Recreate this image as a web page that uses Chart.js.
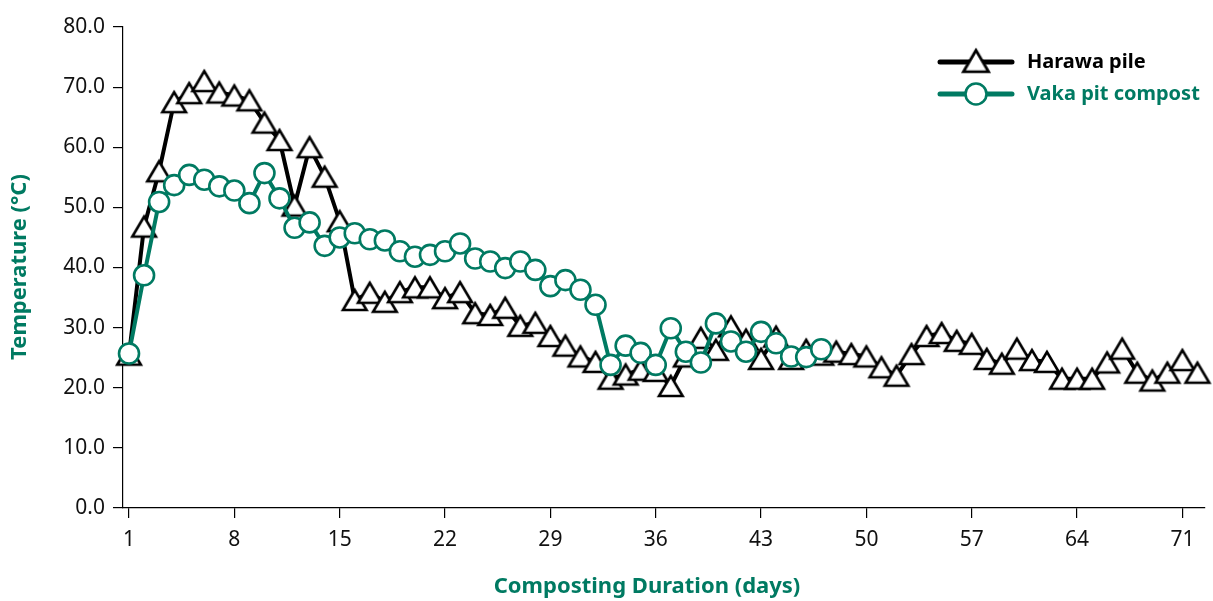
<!DOCTYPE html>
<html>
<head>
<meta charset="utf-8">
<script src="https://cdn.jsdelivr.net/npm/chart.js@4/dist/chart.umd.min.js"></script>
<style>
  html, body { margin: 0; padding: 0; background: #fff; }
  #wrap { width: 1213px; height: 601px; position: relative; }
</style>
</head>
<body>
<div id="wrap"><canvas id="temp-canvas"></canvas></div>
<script>
// Compost temperature by day: Harawa pile vs Vaka pit compost.

const dayTicks = [1, 8, 15, 22, 29, 36, 43, 50, 57, 64, 71];
const tempTicks = [0, 10, 20, 30, 40, 50, 60, 70, 80];

// one reading per day, starting at day 1
const harawaTemp = [
  25.5, 46.8, 56.0, 67.5, 69.0, 71.0, 69.1, 68.6, 67.8, 64.1,
  61.2, 50.3, 60.0, 55.1, 47.7, 34.6, 35.8, 34.3, 35.9, 36.7,
  36.7, 34.9, 35.9, 32.4, 32.1, 33.3, 30.3, 30.8, 28.6, 27.0,
  25.2, 24.3, 21.5, 22.2, 23.0, 22.8, 20.3, 25.2, 28.3, 26.3,
  30.2, 28.0, 24.8, 28.5, 24.8, 26.3, 25.5, 26.0, 25.6, 25.2,
  23.4, 22.0, 25.6, 28.6, 29.1, 27.8, 27.3, 24.8, 24.0, 26.5,
  24.6, 24.3, 21.5, 21.5, 21.5, 24.2, 26.5, 22.5, 21.2, 22.5,
  24.6, 22.5,
];
const vakaTemp = [
  25.7, 38.7, 50.9, 53.7, 55.4, 54.6, 53.5, 52.8, 50.7, 55.7,
  51.5, 46.6, 47.5, 43.6, 45.0, 45.7, 44.7, 44.5, 42.7, 41.8,
  42.1, 42.7, 44.0, 41.5, 41.0, 39.9, 41.0, 39.6, 36.9, 37.9,
  36.3, 33.8, 23.8, 27.0, 25.8, 23.8, 29.9, 26.0, 24.2, 30.7,
  27.7, 26.0, 29.3, 27.4, 25.2, 25.1, 26.4,
];

const GREEN = '#007a62';
const FONT = '"Noto Sans", "Open Sans", sans-serif';

const toPoints = (arr) => arr.map((t, i) => ({ x: i + 1, y: t }));

// open triangle marker, centred on its bounding box (not its centroid)
function triangleMarker() {
  const c = document.createElement('canvas');
  c.width = 30;
  c.height = 28;
  const g = c.getContext('2d');
  g.beginPath();
  g.moveTo(15, 4);
  g.lineTo(3.2, 24);
  g.lineTo(26.8, 24);
  g.closePath();
  g.fillStyle = '#fff';
  g.fill();
  g.lineWidth = 2.6;
  g.strokeStyle = '#000';
  g.stroke();
  return c;
}
const TRI = triangleMarker();

// legend (line + marker + coloured label) and both axis titles
const annotations = {
  id: 'annotations',
  afterDraw(chart) {
    const ctx = chart.ctx;
    const items = [chart.data.datasets[1], chart.data.datasets[0]];
    items.forEach((ds, k) => {
      const y = 62 + k * 32;
      ctx.save();
      ctx.strokeStyle = ds.borderColor;
      ctx.lineWidth = 5;
      ctx.lineCap = 'round';
      ctx.beginPath();
      ctx.moveTo(940, y);
      ctx.lineTo(1012, y);
      ctx.stroke();
      if (ds.pointStyle === TRI) {
        ctx.drawImage(TRI, 976 - 16, y - 16, 32, 30);
      } else {
        ctx.beginPath();
        ctx.arc(976, y, 10.5, 0, Math.PI * 2);
        ctx.fillStyle = '#fff';
        ctx.fill();
        ctx.lineWidth = 2.6;
        ctx.stroke();
      }
      ctx.font = 'bold 20px ' + FONT;
      ctx.fillStyle = ds.borderColor;
      ctx.textBaseline = 'middle';
      ctx.fillText(ds.label, 1027, y);
      ctx.restore();
    });

    ctx.save();
    ctx.font = 'bold 22px ' + FONT;
    ctx.fillStyle = GREEN;
    ctx.textAlign = 'center';
    ctx.textBaseline = 'middle';
    ctx.fillText('Composting Duration (days)', 647, 587);
    ctx.translate(20, 267);
    ctx.rotate(-Math.PI / 2);
    ctx.fillText('Temperature (°C)', 0, 0);
    ctx.restore();
  },
};

const canvas = document.getElementById('temp-canvas');
new Chart(canvas, {
  type: 'line',
  data: {
    datasets: [
      {
        label: 'Vaka pit compost',
        data: toPoints(vakaTemp),
        borderColor: GREEN,
        borderWidth: 4,
        pointStyle: 'circle',
        pointRadius: 10,
        pointBorderWidth: 2.6,
        pointBackgroundColor: '#fff',
        pointBorderColor: GREEN,
        clip: false,
      },
      {
        label: 'Harawa pile',
        data: toPoints(harawaTemp),
        borderColor: '#000',
        borderWidth: 4,
        pointStyle: TRI,
        pointRadius: 14,
        clip: false,
      },
    ],
  },
  options: {
    responsive: true,
    maintainAspectRatio: false,
    animation: false,
    layout: { autoPadding: false, padding: { top: 27, right: 8, left: 0, bottom: 0 } },
    plugins: {
      legend: { display: false },
      tooltip: { enabled: false },
    },
    scales: {
      x: {
        type: 'linear',
        min: 0.6,
        max: 72.5,
        afterBuildTicks: (s) => { s.ticks = dayTicks.map((v) => ({ value: v })); },
        afterFit: (s) => { s.height = 93; },
        grid: { display: true, drawOnChartArea: false, drawTicks: true, tickLength: 10, color: '#000', lineWidth: 1.2 },
        border: { display: true, color: '#000', width: 1.2 },
        ticks: { color: '#111', font: { family: FONT, size: 21 }, padding: 9, maxRotation: 0, autoSkip: false },
      },
      y: {
        min: 0,
        max: 80,
        afterBuildTicks: (s) => { s.ticks = tempTicks.map((v) => ({ value: v })); },
        afterFit: (s) => { s.width = 123; },
        grid: { display: true, drawOnChartArea: false, drawTicks: true, tickLength: 10, color: '#000', lineWidth: 1.2 },
        border: { display: true, color: '#000', width: 1.2 },
        ticks: {
          color: '#111',
          font: { family: FONT, size: 21 },
          padding: 8,
          callback: (v) => v.toFixed(1),
        },
      },
    },
  },
  plugins: [annotations],
});
</script>
</body>
</html>
